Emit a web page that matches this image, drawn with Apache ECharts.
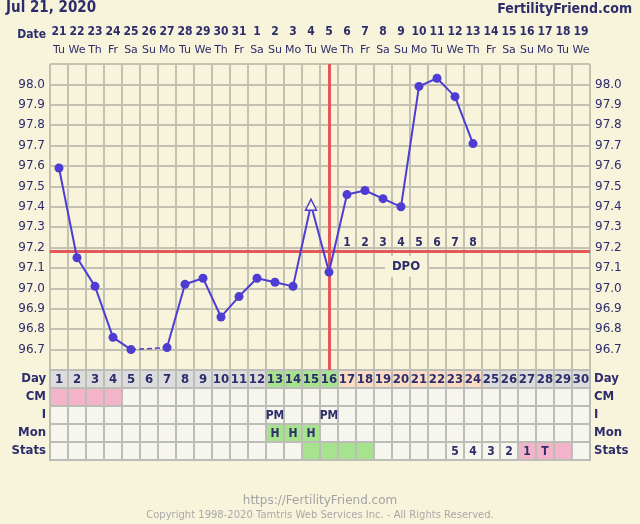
<!DOCTYPE html>
<html>
<head>
<meta charset="utf-8">
<script src="https://cdn.jsdelivr.net/npm/echarts@6/dist/echarts.min.js"></script>
<style>
  html, body { margin: 0; padding: 0; background: #f8f4dc; }
  #chart { width: 640px; height: 524px; }
</style>
</head>
<body>
<div id="chart"></div>
<script>
// cycle days, calendar dates and weekdays
const cycleDays = Array.from({ length: 30 }, (_, i) => String(i + 1));
const dates = ['21','22','23','24','25','26','27','28','29','30','31','1','2','3','4','5','6','7','8','9','10','11','12','13','14','15','16','17','18','19'];
const weekdays = ['Tu','We','Th','Fr','Sa','Su','Mo','Tu','We','Th','Fr','Sa','Su','Mo','Tu','We','Th','Fr','Sa','Su','Mo','Tu','We','Th','Fr','Sa','Su','Mo','Tu','We'];

// temperatures (F), null = not recorded
const temps = [97.59, 97.15, 97.01, 96.76, 96.70, null, 96.71, 97.02, 97.05, 96.86, 96.96, 97.05, 97.03, 97.01, 97.41, 97.08, 97.46, 97.48, 97.44, 97.40, 97.99, 98.03, 97.94, 97.71];
const openDays = [15];           // open triangle markers
const coverline = 97.18;
const ovulationDay = '16';
const dpoDays = ['17','18','19','20','21','22','23','24'];
const dpoLabels = ['1','2','3','4','5','6','7','8'];

// table rows
const rowNames = ['Day', 'CM', 'I', 'Mon', 'Stats'];
const dayPhase = ['','','','','','','','','','','','','fertile','fertile','fertile','fertile','dpo','dpo','dpo','dpo','dpo','dpo','dpo','dpo','','','','','',''];
const cmObs = ['period','period','period','period','','','','','','','','','','','','','','','','','','','','','','','','','',''];
const iText = ['','','','','','','','','','','','','PM','','','PM','','','','','','','','','','','','','',''];
const monText = ['','','','','','','','','','','','','H','H','H','','','','','','','','','','','','','','',''];
const statsText = ['','','','','','','','','','','','','','','','','','','','','','','5','4','3','2','1','T','',''];
const statsKind = ['','','','','','','','','','','','','','','fertile','fertile','fertile','fertile','','','','','','','','','period','period','period',''];

const ink = '#2d2d6b';
const gridCol = '#c4c1b3';
const lineCol = '#4d3dd2';
const redCol = '#e25757';
const bg = '#f8f4dc';
const F = "'DejaVu Sans', Verdana, sans-serif";
const FC = "'DejaVu Sans Condensed', 'DejaVu Sans', sans-serif";

const fills = { fertile: '#a7e28e', dpo: '#fcdcc4', period: '#f2b4c8', day: '#dcdcdc', cell: '#f6f6ee' };

// table cells
const cells = [];
for (let d = 0; d < 30; d++) {
  cells.push({ x: d, y: 0, text: cycleDays[d], fill: fills[dayPhase[d]] || fills.day, size: 13 });
  cells.push({ x: d, y: 1, text: '', fill: fills[cmObs[d]] || fills.cell });
  cells.push({ x: d, y: 2, text: iText[d], fill: fills.cell });
  cells.push({ x: d, y: 3, text: monText[d], fill: monText[d] ? fills.fertile : fills.cell });
  cells.push({ x: d, y: 4, text: statsText[d], fill: fills[statsKind[d]] || fills.cell });
}

// temperature points
const tempData = temps.map((t, i) => {
  if (t === null) return null;
  if (openDays.includes(i + 1)) {
    return { value: t, symbol: 'triangle', symbolSize: 11, itemStyle: { color: bg, borderColor: lineCol, borderWidth: 1.5 } };
  }
  return t;
});
// dashed bridge over missing days
const gapData = new Array(30).fill(null);
temps.forEach((t, i) => {
  if (t === null) {
    let a = i - 1, b = i + 1;
    while (a >= 0 && temps[a] === null) a--;
    while (b < temps.length && temps[b] === null) b++;
    if (a >= 0 && b < temps.length) { gapData[a] = temps[a]; gapData[b] = temps[b]; }
  }
});

const chart = echarts.init(document.getElementById('chart'));
const tempAxis = (pos) => ({
  type: 'value', gridIndex: 0, position: pos,
  min: 96.6, max: 98.1, interval: 0.1,
  axisLine: { show: false }, axisTick: { show: false },
  splitLine: { show: pos === 'left', lineStyle: { color: gridCol, width: 2 } },
  axisLabel: {
    margin: 5, color: ink, fontSize: 12, fontFamily: F,
    formatter: (v) => (v < 96.65 || v > 98.05) ? '' : v.toFixed(1)
  }
});

const option = {
  backgroundColor: bg,
  animation: false,
  grid: [
    { left: 50, right: 50, top: 64, height: 306 },
    { left: 50, right: 50, top: 370, height: 90 }
  ],
  xAxis: [
    {
      type: 'category', gridIndex: 0, data: cycleDays, position: 'top',
      axisLine: { show: false }, axisTick: { show: false },
      splitLine: { show: true, interval: 0, lineStyle: { color: gridCol, width: 2 } },
      axisLabel: {
        interval: 0, margin: 5,
        formatter: (v, i) => '{d|' + dates[i] + '}\n{w|' + weekdays[i] + '}',
        rich: {
          d: { fontFamily: FC, fontWeight: 'bold', fontSize: 12, color: ink, lineHeight: 18 },
          w: { fontFamily: F, fontSize: 11, color: ink, lineHeight: 18 }
        }
      }
    },
    {
      type: 'category', gridIndex: 1, data: cycleDays,
      axisLine: { show: false }, axisTick: { show: false }, axisLabel: { show: false }
    }
  ],
  yAxis: [
    tempAxis('left'),
    tempAxis('right'),
    {
      type: 'category', gridIndex: 1, data: rowNames, inverse: true, position: 'left',
      axisLine: { show: false }, axisTick: { show: false },
      axisLabel: { margin: 4, color: ink, fontSize: 13, fontWeight: 'bold', fontFamily: FC }
    },
    {
      type: 'category', gridIndex: 1, data: rowNames, inverse: true, position: 'right',
      axisLine: { show: false }, axisTick: { show: false },
      axisLabel: { margin: 4, color: ink, fontSize: 13, fontWeight: 'bold', fontFamily: FC }
    }
  ],
  series: [
    {
      type: 'line', xAxisIndex: 0, yAxisIndex: 0, data: gapData, connectNulls: true,
      symbol: 'none', lineStyle: { color: lineCol, width: 1.5, type: [5, 3] }, z: 3
    },
    {
      type: 'line', xAxisIndex: 0, yAxisIndex: 0, data: tempData, connectNulls: false,
      symbol: 'circle', symbolSize: 9, showSymbol: true,
      lineStyle: { color: lineCol, width: 2 }, itemStyle: { color: lineCol },
      z: 5,
      markLine: {
        silent: true, symbol: 'none', label: { show: false },
        lineStyle: { color: redCol, width: 3, type: 'solid' },
        data: [{ yAxis: coverline }, { xAxis: ovulationDay }]
      }
    },
    {
      type: 'scatter', xAxisIndex: 0, yAxisIndex: 0, symbolSize: 0, z: 4,
      itemStyle: { opacity: 1 },
      data: dpoDays.map((d, i) => ({ value: [d, coverline], name: dpoLabels[i] })),
      label: { show: true, position: 'top', distance: 3, formatter: '{b}', color: ink, fontSize: 12, fontWeight: 'bold', fontFamily: FC }
    },
    {
      type: 'scatter', xAxisIndex: 0, yAxisIndex: 0, symbolSize: 0, z: 4,
      itemStyle: { opacity: 1 },
      data: [{ value: ['20', coverline], name: 'DPO' }],
      label: {
        show: true, position: 'bottom', distance: 4, offset: [5, 0], formatter: '{b}',
        color: ink, fontSize: 13, fontWeight: 'bold', fontFamily: FC,
        backgroundColor: bg, padding: [4, 7]
      }
    },
    {
      type: 'custom', xAxisIndex: 1, yAxisIndex: 2,
      data: cells.map(c => [c.x, c.y]),
      renderItem: (params, api) => {
        const c = cells[params.dataIndex];
        const p = api.coord([api.value(0), api.value(1)]);
        const s = api.size([1, 1]);
        return {
          type: 'group',
          children: [
            { type: 'rect', shape: { x: p[0] - s[0] / 2, y: p[1] - s[1] / 2, width: s[0], height: s[1] },
              style: { fill: c.fill, stroke: '#bdbdb8', lineWidth: 2 } },
            { type: 'text', style: { text: c.text, x: p[0], y: p[1] + 1, align: 'center', verticalAlign: 'middle',
              fontFamily: FC, fontWeight: 'bold', fontSize: c.size || 12, fill: ink } }
          ]
        };
      }
    }
  ],
  graphic: [
    { type: 'text', left: 6, top: 1, style: { text: 'Jul 21, 2020', fontFamily: FC, fontWeight: 'bold', fontSize: 15, fill: ink } },
    { type: 'text', right: 8, top: 2, style: { text: 'FertilityFriend.com', fontFamily: FC, fontWeight: 'bold', fontSize: 14, fill: ink } },
    { type: 'text', x: 46, y: 35, style: { text: 'Date', align: 'right', verticalAlign: 'middle', fontFamily: FC, fontWeight: 'bold', fontSize: 12, fill: ink } },
    { type: 'text', x: 320, y: 501, style: { text: 'https://FertilityFriend.com', align: 'center', verticalAlign: 'middle', fontFamily: F, fontSize: 12, fill: '#a3a3a3' } },
    { type: 'text', x: 320, y: 515, style: { text: 'Copyright 1998-2020 Tamtris Web Services Inc. - All Rights Reserved.', align: 'center', verticalAlign: 'middle', fontFamily: F, fontSize: 10, fill: '#a8a8a8' } }
  ]
};
chart.setOption(option);
</script>
</body>
</html>
